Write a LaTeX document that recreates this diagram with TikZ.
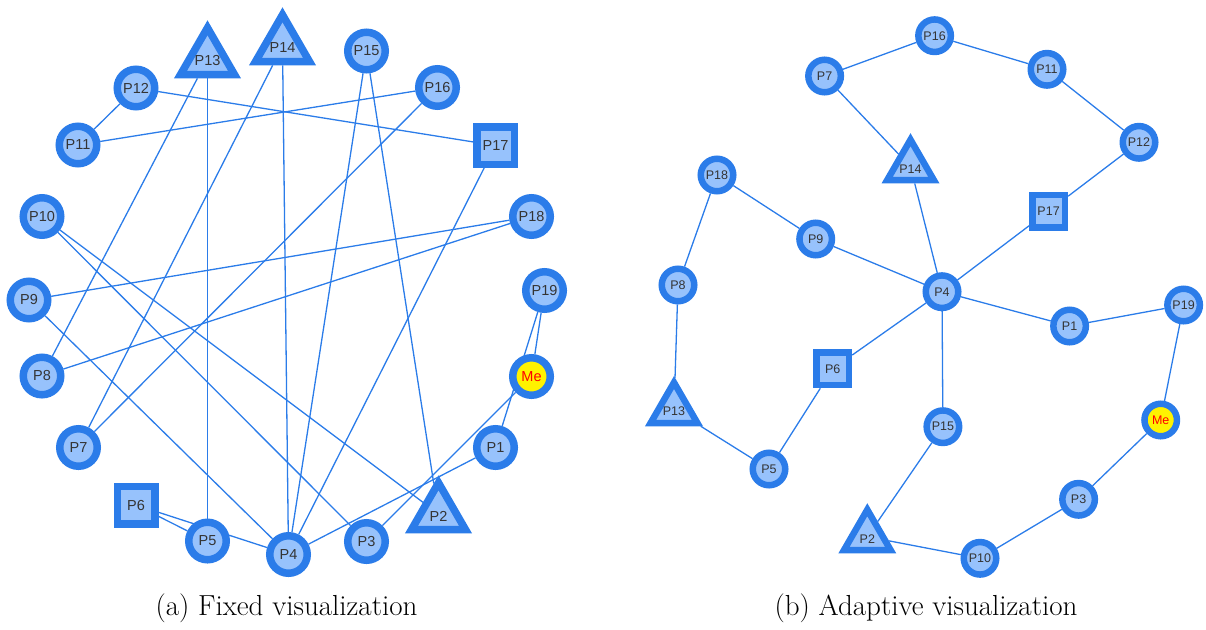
\documentclass[tikz,border=0pt]{standalone}
\usepackage{fontspec}
\newfontfamily\nodefont{Liberation Sans}
\usetikzlibrary{shapes.geometric}
\definecolor{visborder}{HTML}{2B7CE9}
\definecolor{visfill}{HTML}{97C2FC}
\definecolor{vistext}{HTML}{343434}
\pgfdeclarelayer{background}
\pgfsetlayers{background,main}
\newcommand{\lfont}{\nodefont\fontsize{14.5}{15}\selectfont}
\newcommand{\rfont}{\nodefont\fontsize{12.5}{13}\selectfont}
\newcommand{\capfont}{\fontsize{29}{32}\selectfont}

\begin{document}
\begin{tikzpicture}[x=1pt,y=-1pt,
    peer/.style={draw=visborder, fill=visfill, inner sep=0pt, text=vistext},
    lcirc/.style={peer, circle, line width=7.5pt, minimum size=37.5pt, font=\lfont},
    ltri/.style={peer, regular polygon, regular polygon sides=3, line width=7.5pt, minimum size=62.4pt,
        label={[font=\lfont, text=vistext, yshift=-2pt]center:#1}},
    lsq/.style={peer, rectangle, line width=7.5pt, minimum size=37.5pt, font=\lfont},
    rcirc/.style={peer, circle, line width=6.5pt, minimum size=32.5pt, font=\rfont},
    rtri/.style={peer, regular polygon, regular polygon sides=3, line width=6.5pt, minimum size=54pt,
        label={[font=\rfont, text=vistext, yshift=-2pt]center:#1}},
    rsq/.style={peer, rectangle, line width=6.5pt, minimum size=32.5pt, font=\rfont},
    me/.style={fill=yellow, text=red},
    link/.style={draw=visborder, line width=1.3pt}]
    \useasboundingbox (0,0) rectangle (1206,629);

    % (a) Fixed layout: peers on a circle
    \node[ltri=P13] (fP13) at (207.5,59) {};
    \node[ltri=P14] (fP14) at (282.5,46) {};
    \node[lcirc] (fP15) at (366.5,51) {P15};
    \node[lcirc] (fP16) at (437.5,87.5) {P16};
    \node[lsq] (fP17) at (495.5,145.5) {P17};
    \node[lcirc] (fP18) at (531.5,216.5) {P18};
    \node[lcirc] (fP19) at (544.5,290.5) {P19};
    \node[lcirc, me] (fMe) at (531.5,376.5) {Me};
    \node[lcirc] (fP1) at (495.5,447.5) {P1};
    \node[ltri=P2] (fP2) at (438.5,514) {};
    \node[lcirc] (fP3) at (366.5,541.5) {P3};
    \node[lcirc] (fP4) at (288.5,554.5) {P4};
    \node[lcirc] (fP5) at (207.5,541) {P5};
    \node[lsq] (fP6) at (136,505) {P6};
    \node[lcirc] (fP7) at (78.5,447.5) {P7};
    \node[lcirc] (fP8) at (42,376) {P8};
    \node[lcirc] (fP9) at (29,300) {P9};
    \node[lcirc] (fP10) at (42,216.5) {P10};
    \node[lcirc] (fP11) at (78,145) {P11};
    \node[lcirc] (fP12) at (136,88) {P12};

    % (b) Adaptive layout
    \node[rcirc] (aP16) at (934.6,35.7) {P16};
    \node[rcirc] (aP7) at (824.6,76) {P7};
    \node[rcirc] (aP11) at (1047,69.3) {P11};
    \node[rcirc] (aP12) at (1139,142.3) {P12};
    \node[rtri=P14] (aP14) at (910.5,166.7) {};
    \node[rcirc] (aP18) at (717,175) {P18};
    \node[rcirc] (aP9) at (815.7,239) {P9};
    \node[rsq] (aP17) at (1048.6,211) {P17};
    \node[rcirc] (aP8) at (678,285) {P8};
    \node[rcirc] (aP4) at (942,291.7) {P4};
    \node[rcirc] (aP19) at (1183.6,305) {P19};
    \node[rcirc] (aP1) at (1069.6,326) {P1};
    \node[rsq] (aP6) at (832.7,368.8) {P6};
    \node[rtri=P13] (aP13) at (674,409.5) {};
    \node[rcirc] (aP15) at (942.9,426.7) {P15};
    \node[rcirc, me] (aMe) at (1160.7,420) {Me};
    \node[rcirc] (aP5) at (769,469) {P5};
    \node[rcirc] (aP3) at (1078.6,499.3) {P3};
    \node[rtri=P2] (aP2) at (867.3,536.7) {};
    \node[rcirc] (aP10) at (980,558.3) {P10};

    % Captions
    \node (capa) at (286.5,608) {\capfont (a) Fixed visualization};
    \node (capb) at (926,608) {\capfont (b) Adaptive visualization};

    \begin{pgfonlayer}{background}
    % Links, fixed layout
    \draw[link] (fP7) -- (fP16);
    \draw[link] (fP16) -- (fP11);
    \draw[link] (fP11) -- (fP12);
    \draw[link] (fP12) -- (fP17);
    \draw[link] (fP17) -- (fP4);
    \draw[link] (fP7) -- (fP14);
    \draw[link] (fP14) -- (fP4);
    \draw[link] (fP18) -- (fP9);
    \draw[link] (fP9) -- (fP4);
    \draw[link] (fP18) -- (fP8);
    \draw[link] (fP8) -- (fP13);
    \draw[link] (fP13) -- (fP5);
    \draw[link] (fP5) -- (fP6);
    \draw[link] (fP6) -- (fP4);
    \draw[link] (fP4) -- (fP1);
    \draw[link] (fP1) -- (fP19);
    \draw[link] (fP19) -- (fMe);
    \draw[link] (fMe) -- (fP3);
    \draw[link] (fP3) -- (fP10);
    \draw[link] (fP10) -- (fP2);
    \draw[link] (fP2) -- (fP15);
    \draw[link] (fP15) -- (fP4);

    % Links, adaptive layout
    \draw[link] (aP7) -- (aP16);
    \draw[link] (aP16) -- (aP11);
    \draw[link] (aP11) -- (aP12);
    \draw[link] (aP12) -- (aP17);
    \draw[link] (aP17) -- (aP4);
    \draw[link] (aP7) -- (aP14);
    \draw[link] (aP14) -- (aP4);
    \draw[link] (aP18) -- (aP9);
    \draw[link] (aP9) -- (aP4);
    \draw[link] (aP18) -- (aP8);
    \draw[link] (aP8) -- (aP13);
    \draw[link] (aP13) -- (aP5);
    \draw[link] (aP5) -- (aP6);
    \draw[link] (aP6) -- (aP4);
    \draw[link] (aP4) -- (aP1);
    \draw[link] (aP1) -- (aP19);
    \draw[link] (aP19) -- (aMe);
    \draw[link] (aMe) -- (aP3);
    \draw[link] (aP3) -- (aP10);
    \draw[link] (aP10) -- (aP2);
    \draw[link] (aP2) -- (aP15);
    \draw[link] (aP15) -- (aP4);
    \end{pgfonlayer}
\end{tikzpicture}
\end{document}
